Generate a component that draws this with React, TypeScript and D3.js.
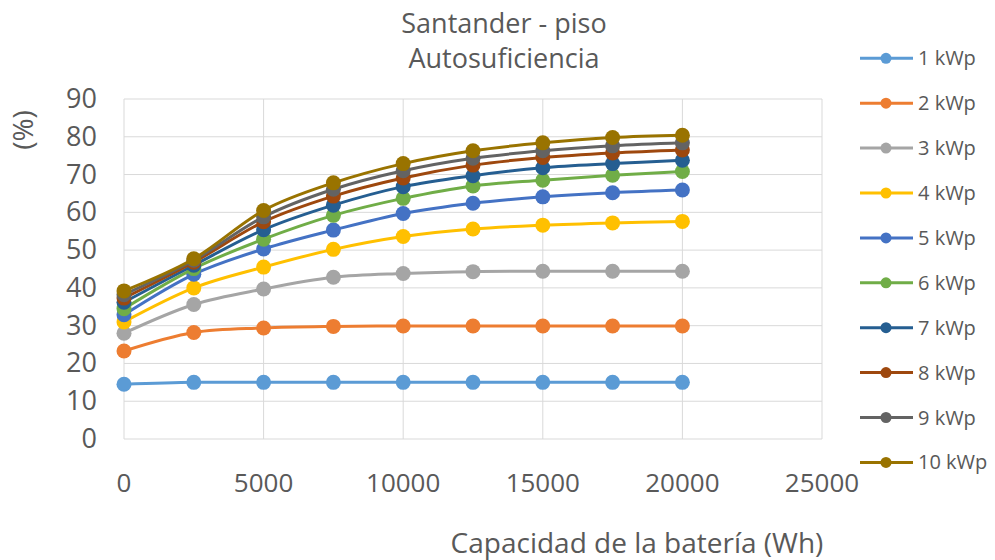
import React from "react";
import * as d3 from "d3";

// Battery capacity (Wh) at which each series was sampled
const capacities = [0, 2500, 5000, 7500, 10000, 12500, 15000, 17500, 20000];

const seriesNames = ["1 kWp", "2 kWp", "3 kWp", "4 kWp", "5 kWp", "6 kWp", "7 kWp", "8 kWp", "9 kWp", "10 kWp"];

const s1 = [14.5, 15.0, 15.0, 15.0, 15.0, 15.0, 15.0, 15.0, 15.0];
const s2 = [23.3, 28.2, 29.4, 29.8, 29.9, 29.9, 29.9, 29.9, 29.9];
const s3 = [28.0, 35.6, 39.7, 42.8, 43.8, 44.3, 44.4, 44.4, 44.4];
const s4 = [31.0, 40.0, 45.5, 50.2, 53.6, 55.6, 56.6, 57.2, 57.6];
const s5 = [32.9, 43.6, 50.3, 55.3, 59.7, 62.4, 64.1, 65.2, 65.9];
const s6 = [34.5, 45.1, 52.9, 59.2, 63.7, 67.0, 68.5, 69.8, 70.8];
const s7 = [36.2, 46.0, 55.4, 61.9, 66.8, 69.7, 71.8, 72.9, 73.8];
const s8 = [37.3, 46.8, 57.5, 64.3, 69.1, 72.5, 74.5, 75.7, 76.5];
const s9 = [38.2, 47.3, 58.8, 66.1, 71.0, 74.3, 76.3, 77.6, 78.4];
const s10 = [39.2, 47.7, 60.5, 67.8, 72.9, 76.3, 78.4, 79.8, 80.4];

const seriesValues = [s1, s2, s3, s4, s5, s6, s7, s8, s9, s10];

const colors = [
  "#5B9BD5", "#ED7D31", "#A5A5A5", "#FFC000", "#4472C4",
  "#70AD47", "#255E91", "#9E480E", "#636363", "#997300",
];

const xTicks = [0, 5000, 10000, 15000, 20000, 25000];
const yTicks = [0, 10, 20, 30, 40, 50, 60, 70, 80, 90];

const W = 995;
const H = 560;
const plot = { left: 124, right: 822, top: 99, bottom: 439 };
const FONT = "'Open Sans', 'DejaVu Sans', sans-serif";
const TEXT = "#595959";
const GRID = "#D9D9D9";

export default function App() {
  const x = d3.scaleLinear().domain([0, 25000]).range([plot.left, plot.right]);
  const y = d3.scaleLinear().domain([0, 90]).range([plot.bottom, plot.top]);

  const line = d3
    .line<number>()
    .x((_, i) => x(capacities[i]))
    .y((v) => y(v))
    .curve(d3.curveCatmullRom.alpha(0));

  const legendY0 = 58.3;
  const legendStep = 44.9;

  return (
    <svg
      width={W}
      height={H}
      style={{ position: "absolute", left: 0, top: 0, background: "#fff" }}
      fontFamily={FONT}
    >
      <rect x={0} y={0} width={W} height={H} fill="#fff" />

      {/* title */}
      <text x={504} y={33} textAnchor="middle" fontSize={27} fill={TEXT}>
        Santander - piso
      </text>
      <text x={504} y={68} textAnchor="middle" fontSize={27} fill={TEXT}>
        Autosuficiencia
      </text>

      {/* grid */}
      {yTicks.map((t) => (
        <line key={"gy" + t} x1={plot.left} x2={plot.right} y1={y(t)} y2={y(t)} stroke={GRID} strokeWidth={1} />
      ))}
      {xTicks.map((t) => (
        <line key={"gx" + t} x1={x(t)} x2={x(t)} y1={plot.top} y2={plot.bottom} stroke={GRID} strokeWidth={1} />
      ))}

      {/* y tick labels */}
      {yTicks.map((t) => (
        <text key={"ty" + t} x={97} y={y(t) + 9} textAnchor="end" fontSize={27} fill={TEXT}>
          {t}
        </text>
      ))}
      <text
        transform={`translate(33,130) rotate(-90)`}
        textAnchor="middle"
        fontSize={28}
        fill={TEXT}
      >
        (%)
      </text>

      {/* x tick labels */}
      {xTicks.map((t) => (
        <text key={"tx" + t} x={x(t)} y={492} textAnchor="middle" fontSize={26} fill={TEXT}>
          {t}
        </text>
      ))}
      <text x={637} y={553} textAnchor="middle" fontSize={28} fill={TEXT}>
        Capacidad de la batería (Wh)
      </text>

      {/* series */}
      {seriesValues.map((vals, si) => (
        <g key={"s" + si}>
          <path d={line(vals) || ""} fill="none" stroke={colors[si]} strokeWidth={3} />
          {vals.map((v, i) => (
            <circle key={i} cx={x(capacities[i])} cy={y(v)} r={7.5} fill={colors[si]} />
          ))}
        </g>
      ))}

      {/* legend */}
      {seriesNames.map((name, i) => {
        const ly = legendY0 + i * legendStep;
        return (
          <g key={"lg" + i}>
            <line x1={860} x2={913} y1={ly} y2={ly} stroke={colors[i]} strokeWidth={3} />
            <circle cx={886} cy={ly} r={5.5} fill={colors[i]} />
            <text x={918} y={ly + 7} fontSize={20} fill={TEXT}>
              {name}
            </text>
          </g>
        );
      })}
    </svg>
  );
}
